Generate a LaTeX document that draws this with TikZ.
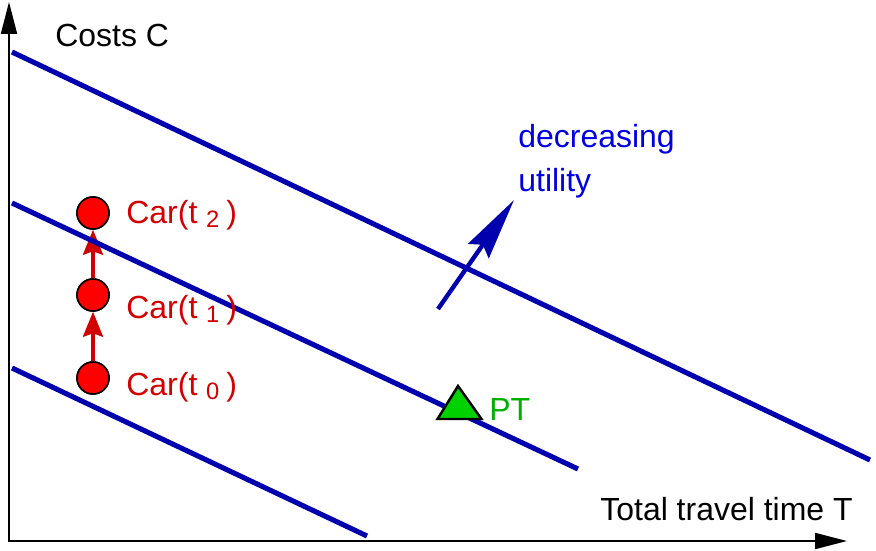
\documentclass[tikz,border=0pt]{standalone}
\usepackage{fontspec}
\setmainfont{Liberation Sans}
\usetikzlibrary{arrows.meta}
\definecolor{lineblue}{RGB}{0,0,175}
\definecolor{textblue}{RGB}{0,0,225}
\definecolor{carred}{RGB}{210,0,0}
\definecolor{ptgreen}{RGB}{0,175,0}
\definecolor{ptfill}{RGB}{0,210,0}
\newcommand{\subidx}[1]{\hspace{5pt}\raisebox{-2.8pt}{\fontsize{13.5}{15}\selectfont #1}\hspace{4pt}}
\begin{document}
\begin{tikzpicture}[
    x=0.02cm, y=-0.02cm,
    font=\fontsize{18.2}{21}\selectfont,
    axis/.style={line width=1.1pt, {Triangle[length=0.64cm, width=0.32cm]}-{Triangle[length=0.64cm, width=0.32cm]}},
    utilline/.style={lineblue, line width=2.9pt},
    car/.style={circle, draw=black, line width=0.9pt, fill=red, minimum size=0.64cm, inner sep=0pt},
    carstep/.style={carred, line width=1.8pt, -{Stealth[length=0.5cm, width=0.4cm, inset=0.07cm]}},
    txt/.style={anchor=base west, inner sep=0pt}
]
    \useasboundingbox (0,0) rectangle (876,551);

    \coordinate (O) at (9,541);
    \coordinate (Ytop) at (9,2);
    \coordinate (Xend) at (847,541);
    \draw[axis] (Ytop) -- (O) -- (Xend);

    \node[car] (c0) at (93,378) {};
    \node[car] (c1) at (93,295) {};
    \node[car] (c2) at (93,213) {};
    \draw[carstep] (c0) -- (c1);
    \draw[carstep] (c1) -- (c2);

    \coordinate (a1) at (12,52);
    \coordinate (b1) at (870,460);
    \coordinate (a2) at (12,203);
    \coordinate (b2) at (578,469);
    \coordinate (a3) at (12,368);
    \coordinate (b3) at (367,536);
    \draw[utilline] (a1) -- (b1);
    \draw[utilline] (a2) -- (b2);
    \draw[utilline] (a3) -- (b3);

    \node[car] at (c0) {};
    \node[car] at (c1) {};
    \node[car] at (c2) {};

    \coordinate (u0) at (438,309);
    \coordinate (u1) at (514,200);
    \draw[lineblue, line width=2.5pt, -{Stealth[length=1.24cm, width=0.5cm, inset=0.15cm]}] (u0) -- (u1);

    \filldraw[fill=ptfill, draw=black, line width=1.4pt] (437.5,419) -- (458,386) -- (481.5,419) -- cycle;

    \node[txt] (costs) at (55,47) {Costs C};
    \node[txt] (ttime) at (600,520) {Total travel time T};
    \node[txt, textblue] (decr) at (518,147) {decreasing};
    \node[txt, textblue] (util) at (518,191) {utility};
    \node[txt, carred] (l0) at (126,395) {Car(t\subidx{0})};
    \node[txt, carred] (l1) at (126,318) {Car(t\subidx{1})};
    \node[txt, carred] (l2) at (126,223) {Car(t\subidx{2})};
    \node[txt, ptgreen] (ptlab) at (489,420) {PT};
\end{tikzpicture}
\end{document}
